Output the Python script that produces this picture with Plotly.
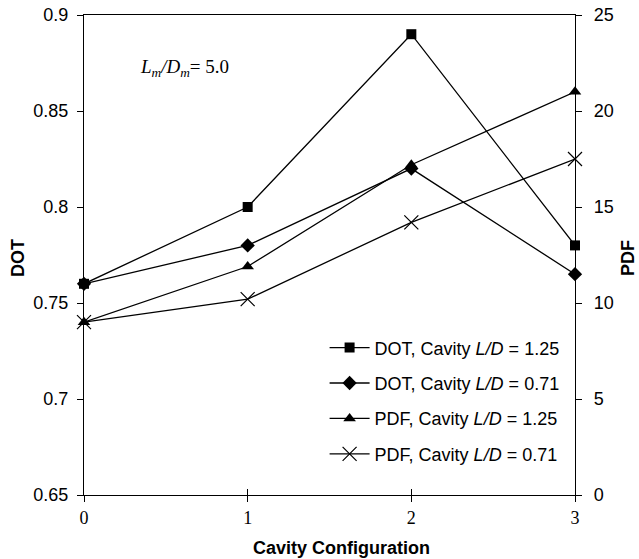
import plotly.graph_objects as go

x_config = [0, 1, 2, 3]
x_ticks = ["0", "1", "2", "3"]
dot_ld125 = [0.76, 0.80, 0.89, 0.78]
dot_ld071 = [0.76, 0.78, 0.82, 0.765]
pdf_ld125 = [9.0, 11.9, 17.2, 21.0]
pdf_ld071 = [9.0, 10.2, 14.2, 17.5]

names = [
    "DOT, Cavity <i>L/D</i> = 1.25",
    "DOT, Cavity <i>L/D</i> = 0.71",
    "PDF, Cavity <i>L/D</i> = 1.25",
    "PDF, Cavity <i>L/D</i> = 0.71",
]

sans = "Liberation Sans, Arial, sans-serif"
serif = "Liberation Serif, Times New Roman, serif"
FS = 18

W, H = 639, 559
ML, MR, MT, MB = 84, 64, 15, 64
PW, PH = W - ML - MR, H - MT - MB


def px_x(px):
    return (px - ML) / PW


def px_y(py):
    return (H - MB - py) / PH


fig = go.Figure()
line = dict(color="black", width=1.3)
fig.add_trace(go.Scatter(x=x_config, y=dot_ld125, name=names[0], mode="lines+markers",
                         line=line, marker=dict(symbol="square", size=10, color="black"),
                         cliponaxis=False, legendgroup="a", yaxis="y"))
fig.add_trace(go.Scatter(x=x_config, y=dot_ld071, name=names[1], mode="lines+markers",
                         line=line, marker=dict(symbol="diamond", size=11, color="black"),
                         cliponaxis=False, legendgroup="b", yaxis="y"))
fig.add_trace(go.Scatter(x=x_config, y=pdf_ld125, name=names[2], mode="lines+markers",
                         line=line, marker=dict(symbol="triangle-up", size=11, color="black"),
                         cliponaxis=False, legendgroup="c", yaxis="y2"))
fig.add_trace(go.Scatter(x=x_config, y=pdf_ld071, name=names[3], mode="lines+markers",
                         line=line, marker=dict(symbol="x-thin", size=14, color="black",
                                                line=dict(color="black", width=1.2)),
                         cliponaxis=False, legendgroup="d", yaxis="y2"))

fig.add_annotation(text="<i>L<sub>m</sub>/D<sub>m</sub></i>= 5.0", xref="paper", yref="paper",
                   x=px_x(138), y=px_y(68), xanchor="left", yanchor="middle", showarrow=False,
                   font=dict(family=serif, size=19, color="black"))

fig.add_annotation(text="<b>Cavity Configuration</b>", xref="paper", yref="paper",
                   x=px_x(341), y=px_y(548), xanchor="center", yanchor="middle",
                   showarrow=False, font=dict(family=sans, size=FS, color="black"))
fig.add_annotation(text="<b>DOT</b>", xref="paper", yref="paper", textangle=-90,
                   x=px_x(18), y=px_y(258), xanchor="center", yanchor="middle",
                   showarrow=False, font=dict(family=sans, size=FS, color="black"))
fig.add_annotation(text="<b>PDF</b>", xref="paper", yref="paper", textangle=-90,
                   x=px_x(628), y=px_y(258), xanchor="center", yanchor="middle",
                   showarrow=False, font=dict(family=sans, size=FS, color="black"))

fig.update_layout(
    width=W, height=H,
    margin=dict(l=ML, r=MR, t=MT, b=MB),
    paper_bgcolor="white", plot_bgcolor="white",
    font=dict(family=sans, size=FS, color="black"),
    xaxis=dict(range=[0, 3], tickvals=x_config, ticktext=x_ticks, ticks="outside", ticklen=6,
               tickcolor="black", showline=True, linecolor="black", linewidth=1.3,
               mirror=True, showgrid=False, zeroline=False, automargin=False,
               tickfont=dict(family=serif, size=18)),
    xaxis2=dict(range=[0, 3], tickvals=x_config, ticks="inside", ticklen=6, tickcolor="black",
                showticklabels=False, overlaying="x", anchor="y", showgrid=False, zeroline=False,
                showline=False, automargin=False),
    yaxis=dict(range=[0.65, 0.9], dtick=0.05, ticks="outside", ticklen=6,
               tickcolor="black", showline=True, linecolor="black", linewidth=1.3,
               showgrid=False, zeroline=False, ticklabelstandoff=5, automargin=False),
    yaxis2=dict(range=[0, 25], dtick=5, ticks="outside", ticklen=6, tickcolor="black",
                overlaying="y", side="right", showline=True, linecolor="black", linewidth=1.3,
                showgrid=False, zeroline=False, ticklabelstandoff=8, automargin=False),
    legend=dict(x=0.49, y=0.345, xanchor="left", yanchor="top", bgcolor="rgba(0,0,0,0)",
                font=dict(family=sans, size=FS), traceorder="grouped", tracegroupgap=9,
                itemwidth=40),
    showlegend=True,
)
# invisible trace to activate the inside-tick overlay axis
fig.add_trace(go.Scatter(x=[0, 3], y=[0.65, 0.65], xaxis="x2", yaxis="y", mode="lines",
                         line=dict(width=0), showlegend=False, hoverinfo="skip"))

fig.write_html("out.html")
